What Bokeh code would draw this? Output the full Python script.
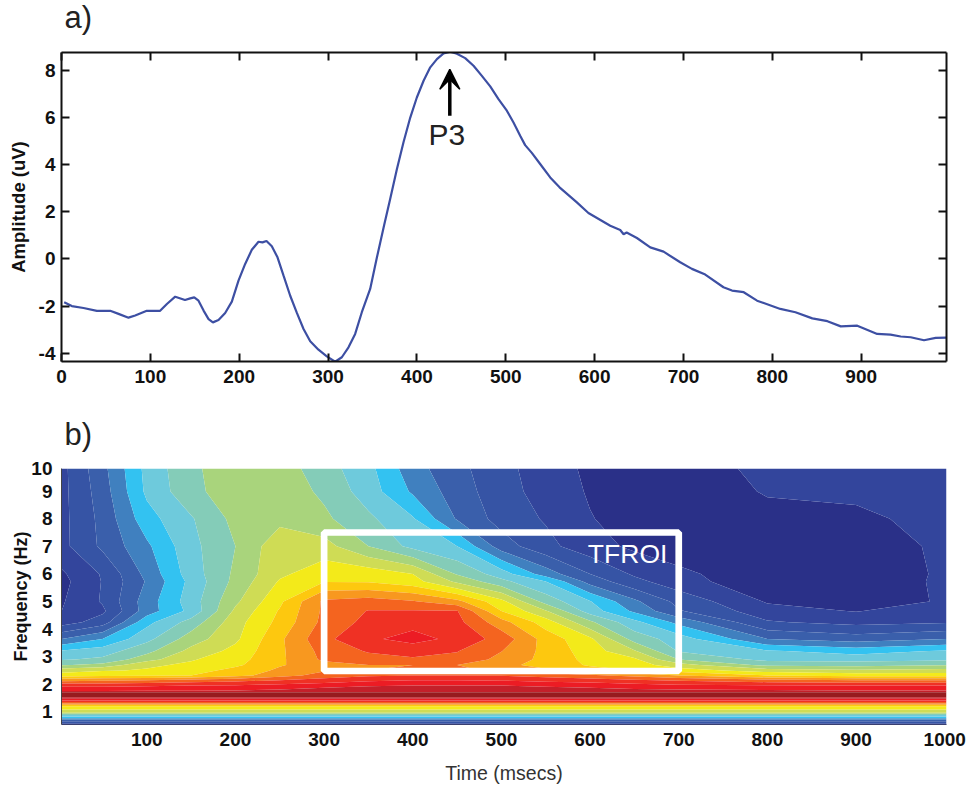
import numpy as np
from bokeh.embed import file_html
from bokeh.resources import INLINE
from bokeh.layouts import column
from bokeh.plotting import figure
from bokeh.models import Range1d, LinearAxis, FixedTicker, Label, Arrow, VeeHead

# ---------- panel a: ERP waveform ----------
erp_t = [3, 11.6, 24.8, 39.8, 54.8, 64.2, 75.4, 82.9, 96, 111, 118.6, 128, 139, 144.9, 149.4, 154.2, 159.9, 165.5,
         170.4, 176.7, 184.2, 191.7, 199.2, 206.7, 214.2, 221.7, 226.2, 230.7, 236.7, 243.1, 249.9, 257.4, 264.9,
         272.4, 279.9, 289.2, 298.6, 308, 315.5, 323, 330.5, 338, 347.4, 355, 363.2, 369.9, 377.5, 384.9, 392.5,
         399.9, 407.5, 415, 422.5, 430, 437.5, 445, 454.3, 463.7, 473.1, 482.5, 491.8, 501.2, 508.7, 516.2, 521.8,
         529.3, 538.7, 550, 560.5, 580, 593, 617.6, 628.8, 632.6, 636, 647.6, 662.6, 677.6, 696.3, 709.5,
         724.5, 745, 754.6, 767.8, 782.8, 809, 826, 845, 862, 877, 895.6, 918, 933, 944.5, 955.7, 970.7,
         983.8, 996]
erp_uv = [-1.84, -2.0, -2.08, -2.2, -2.2, -2.33, -2.49, -2.4, -2.2, -2.2, -1.91, -1.6, -1.74, -1.67, -1.63, -1.77,
          -2.19, -2.55, -2.69, -2.59, -2.29, -1.81, -0.92, -0.21, 0.39, 0.73, 0.705, 0.76, 0.54, 0.07, -0.71, -1.56,
          -2.29, -2.97, -3.49, -3.85, -4.13, -4.36, -4.17, -3.75, -3.18, -2.26, -1.27, 0.07, 1.45, 2.54, 3.82, 4.95,
          6.0, 6.85, 7.56, 8.13, 8.48, 8.72, 8.79, 8.71, 8.52, 8.2, 7.77, 7.32, 6.78, 6.29, 5.79, 5.23, 4.83,
          4.5, 4.03, 3.46, 3.04, 2.4, 1.95, 1.41, 1.23, 1.05, 1.12, 0.89, 0.49, 0.31, -0.14, -0.42,
          -0.66, -1.2, -1.34, -1.41, -1.77, -2.12, -2.26, -2.52, -2.64, -2.86, -2.83, -3.18, -3.21, -3.29,
          -3.32, -3.45, -3.35, -3.34]
erp_xticks = [0, 100, 200, 300, 400, 500, 600, 700, 800, 900]
erp_yticks = [-4, -2, 0, 2, 4, 6, 8]
erp_ylabels = {-4: "-4", -2: "-2"}

# ---------- panel b: time-frequency power (band index units) ----------
tf_t = [4, 50, 100, 150, 200, 250, 300, 350, 400, 450, 500, 550, 600, 650, 700, 800, 900, 1002]
low_f = [0.54, 0.625, 0.71, 0.77, 0.87, 0.93, 0.99, 1.17, 1.25, 1.325, 1.41, 1.47, 1.53, 1.615, 1.71]
low_z = [1.3, 2.5, 4, 5, 6.7, 8, 9.5, 10.5, 11.8, 13.5, 15, 16, 17, 17.6, 17]
z_1_77 = [15.6, 15.7, 15.8, 15.9, 16, 16.2, 16.5, 16.8, 16.9, 16.9, 16.9, 16.7, 16.5, 16.3, 16.2, 16.1, 16, 16]
z_1_95 = [14.8, 14.8, 14.9, 15, 15.1, 15.3, 15.6, 15.9, 16, 16, 16, 15.8, 15.6, 15.4, 15.2, 15.1, 15, 15]
z_2_13 = [12.8, 13, 13.2, 13.5, 13.8, 14.1, 14.5, 14.9, 15.1, 15.1, 15, 14.8, 14.6, 14.3, 14, 13.5, 13.2, 13.2]
z_2_32 = [10.5, 10.7, 10.8, 11, 11.6, 12.6, 13.4, 13.8, 14, 14, 13.9, 13.6, 13.2, 12.7, 12, 11, 10.6, 10.6]
z_2_50 = [9.6, 9.9, 10.1, 10.6, 11.3, 12.2, 12.9, 13, 13.1, 13.1, 12.9, 12.2, 11.3, 11, 10.5, 9.5, 9.2, 9.4]
z_2_70 = [7.9, 8.3, 9.8, 10.2, 10.8, 11.9, 12.6, 13, 13, 13, 12.4, 11.5, 10.9, 10.5, 9.4, 7.7, 7.6, 7.9]
z_2_90 = [6.9, 7.2, 8.6, 9.9, 10.6, 11.8, 13.2, 13.6, 13.9, 13.7, 12.7, 11.7, 10.7, 10.2, 8, 6.7, 6.6, 6.8]
z_3_20 = [6.1, 6.5, 7.7, 9.3, 10.3, 11.8, 13.35, 14.1, 14.3, 14.05, 13.03, 11.7, 10.5, 9.1, 6.9, 6.1, 5.6, 6.1]
z_3_64 = [4, 5, 6.7, 8.5, 9.8, 11.8, 13.75, 14.8, 15.4, 14.7, 13.6, 11.6, 10.2, 7.6, 6.5, 4, 3.5, 4]
z_4_25 = [1.5, 2.5, 5.7, 7.4, 9.6, 11.3, 13.3, 14.3, 14.6, 14.3, 12.4, 10.5, 8.2, 6.3, 4.7, 2.1, 1.7, 1.9]
z_4_65 = [1, 1.8, 4.5, 6.3, 9.2, 11.1, 13.2, 14.05, 14.1, 14.05, 11, 9.1, 6.5, 4.8, 3.1, 1.4, 0.95, 1.6]
z_5_00 = [0.9, 2.1, 4.5, 6.5, 8.8, 10.8, 13.2, 13.5, 13.1, 12.3, 10.3, 7.6, 6.05, 4.2, 2.7, 0.9, 0.35, 1.15]
z_5_72 = [0.7, 2.05, 4.1, 6.3, 8.3, 10.1, 10.95, 10.9, 10.4, 8.8, 7.3, 6, 3.6, 2.3, 1.4, 0.3, 0.15, 1.25]
z_6_00 = [0.85, 2.1, 4.3, 6.5, 8.2, 9.8, 10.6, 10.6, 10, 7.9, 6.5, 4.5, 3, 1.85, 1.2, 0.4, 0.2, 1.2]
z_7_00 = [1.7, 3.2, 4.8, 6.7, 8, 9.7, 9.4, 8, 6.7, 6, 3.5, 2.3, 1.4, 0.8, 0.5, 0.3, 0.2, 1.3]
z_8_00 = [1.7, 3.3, 5.6, 6.9, 8.3, 8.7, 8.2, 7.2, 6.1, 3.9, 2.6, 1.9, 1.05, 0.6, 0.45, 0.7, 0.7, 1.5]
z_8_99 = [1.7, 3.5, 6.2, 7.7, 8.6, 8.6, 7.8, 6.5, 4.85, 3.5, 2.4, 1.6, 0.9, 0.5, 0.4, 1.08, 1.3, 1.6]
z_9_82 = [1.7, 3.7, 6.3, 7.8, 8.6, 8.5, 7.45, 6.3, 4.4, 3.3, 2.3, 1.5, 0.8, 0.5, 0.4, 1.3, 1.5, 1.6]
high_f = [1.77, 1.95, 2.13, 2.32, 2.5, 2.7, 2.9, 3.2, 3.64, 4.25, 4.65, 5.0, 5.72, 6.0, 7.0, 8.0, 8.99, 9.82]
high_z = [z_1_77, z_1_95, z_2_13, z_2_32, z_2_50, z_2_70, z_2_90, z_3_20, z_3_64, z_4_25, z_4_65, z_5_00,
          z_5_72, z_6_00, z_7_00, z_8_00, z_8_99, z_9_82]
band_colors = ["#2a3088", "#33459c", "#3654a5", "#3a5fab", "#4080bf", "#33c2f1", "#6ecadc", "#84ccb8",
               "#a9d47c", "#cfdc55", "#f3ea1a", "#fdc80f", "#f8981f", "#f4641f", "#ef3124", "#ec1c24",
               "#c4202a", "#971b1e"]
tf_xticks = [100, 200, 300, 400, 500, 600, 700, 800, 900, 1000]
tf_yticks = [1, 2, 3, 4, 5, 6, 7, 8, 9, 9.82]
tf_ylabels = {9.82: "10"}
roi_t = [300, 700]
roi_f = [2.48, 7.5]

FONT = "Liberation Sans"
TICK = "19px"
INK = "#111111"


def header(text, height, y):
    h = figure(width=976, height=height, frame_width=976, frame_height=height, output_backend="svg",
               toolbar_location=None, x_range=Range1d(0, 976), y_range=Range1d(height, 0), x_axis_location=None,
               y_axis_location=None, min_border_left=0, min_border_right=0, min_border_top=0, min_border_bottom=0,
               outline_line_color=None, background_fill_color="white")
    h.grid.visible = False
    h.add_layout(Label(x=3, y=y, text=text, text_font=FONT, text_font_size="31px", text_color="#222222"))
    return h


head_a = header("a)", 38, 34)
head_b = header("b)", 50, 43)

# ---------- figure a ----------
p1 = figure(width=976, height=370, frame_width=885, frame_height=309, output_backend="svg", toolbar_location=None,
            x_range=Range1d(0, 996), y_range=Range1d(-4.35, 8.76), min_border_left=61, min_border_right=30,
            min_border_top=14, min_border_bottom=47, background_fill_color="white", outline_line_color=None)
p1.grid.visible = False
p1.line(erp_t, erp_uv, line_color="#3d4fa3", line_width=2.2)


def style(ax, ticks):
    ax.ticker = FixedTicker(ticks=ticks)
    ax.axis_line_color = "#111111"
    ax.axis_line_width = 2
    ax.major_tick_line_color = "#111111"
    ax.major_tick_line_width = 2
    ax.major_tick_in = 8
    ax.major_tick_out = 0
    ax.minor_tick_line_color = None
    ax.major_label_text_font = FONT
    ax.major_label_text_font_style = "bold"
    ax.major_label_text_font_size = TICK
    ax.major_label_text_color = INK


style(p1.xaxis[0], erp_xticks)
style(p1.yaxis[0], erp_yticks)
p1.yaxis[0].major_label_overrides = erp_ylabels
p1.xaxis[0].major_label_standoff = 8
p1.yaxis[0].major_label_standoff = 6
p1.yaxis[0].axis_label = "Amplitude (uV)"
p1.yaxis[0].axis_label_text_font = FONT
p1.yaxis[0].axis_label_text_font_style = "bold"
p1.yaxis[0].axis_label_text_font_size = "18.5px"
p1.yaxis[0].axis_label_text_color = INK
p1.yaxis[0].axis_label_standoff = 7
for side, ticks in (("above", erp_xticks), ("right", erp_yticks)):
    ax = LinearAxis()
    style(ax, ticks)
    ax.major_label_overrides = {t: "" for t in ticks}
    ax.major_label_standoff = 0
    p1.add_layout(ax, side)

p1.add_layout(Arrow(end=VeeHead(size=20, fill_color="black", line_color="black", line_width=1.5), x_start=437, y_start=6.08,
                    x_end=437, y_end=8.05, line_color="black", line_width=3.5))
p1.add_layout(Label(x=413, y=4.58, text="P3", text_font=FONT, text_font_size="30px", text_color="#222222"))

# ---------- figure b ----------
p2 = figure(width=976, height=329, frame_width=885, frame_height=256, output_backend="svg", toolbar_location=None,
            x_range=Range1d(3.8, 1002), y_range=Range1d(0.54, 9.82), min_border_left=61, min_border_right=30,
            min_border_top=10, min_border_bottom=63, background_fill_color="white", outline_line_color=None)
p2.grid.visible = False
tf_f = np.array(low_f + high_f)
tf_z = np.array([[v] * len(tf_t) for v in low_z] + high_z)
p2.contour(np.array(tf_t, float), tf_f, tf_z, levels=list(range(len(band_colors) + 1)),
           fill_color=band_colors, line_color=None)
p2.quad(left=[roi_t[0]], right=[roi_t[1]], bottom=[roi_f[0]], top=[roi_f[1]], fill_color=None,
        line_color="white", line_width=6.7)

for ax, ticks in ((p2.xaxis[0], tf_xticks), (p2.yaxis[0], tf_yticks)):
    style(ax, ticks)
    ax.major_tick_in = 0
    ax.major_tick_line_color = None
p2.xaxis[0].axis_line_color = "#3a3f70"
p2.xaxis[0].axis_line_width = 1
p2.yaxis[0].axis_line_color = "#444444"
p2.yaxis[0].axis_line_width = 1
p2.xaxis[0].major_label_standoff = 8
p2.yaxis[0].major_label_standoff = 9
p2.yaxis[0].major_label_overrides = tf_ylabels
p2.yaxis[0].axis_label = "Frequency (Hz)"
p2.yaxis[0].axis_label_text_font = FONT
p2.yaxis[0].axis_label_text_font_style = "bold"
p2.yaxis[0].axis_label_text_font_size = "18px"
p2.yaxis[0].axis_label_text_color = INK
p2.yaxis[0].axis_label_standoff = -3
p2.xaxis[0].axis_label = "Time (msecs)"
p2.xaxis[0].axis_label_text_font = FONT
p2.xaxis[0].axis_label_text_font_style = "normal"
p2.xaxis[0].axis_label_text_font_size = "19.5px"
p2.xaxis[0].axis_label_text_color = "#333333"
p2.xaxis[0].axis_label_standoff = 13
p2.add_layout(Label(x=597.5, y=6.16, text="TFROI", text_font=FONT, text_font_size="26.5px", text_color="white"))

page = column(head_a, p1, head_b, p2, spacing=0)
open("out.html", "w").write(file_html(page, INLINE))
